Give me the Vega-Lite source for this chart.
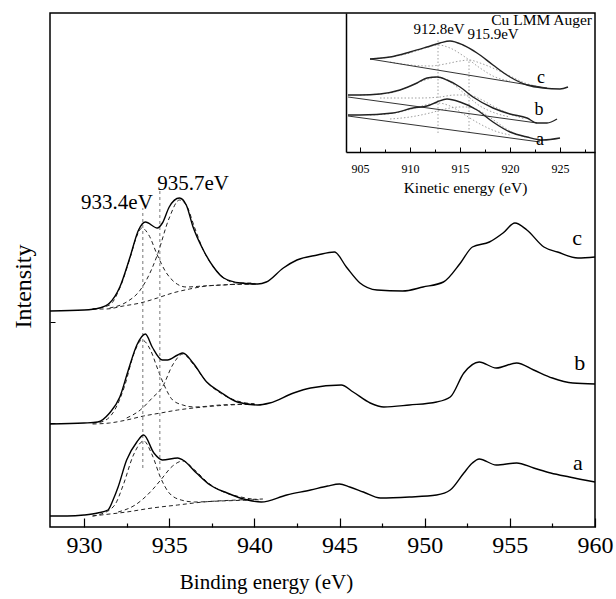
{
  "$schema": "https://vega.github.io/schema/vega-lite/v6.json",
  "width": 545,
  "height": 514,
  "autosize": {"type": "none"},
  "padding": {"left": 50, "top": 13, "right": 21, "bottom": 72},
  "background": "white",
  "config": {
    "view": {"stroke": "black", "strokeWidth": 1.5},
    "axis": {"grid": false, "labelFont": "Liberation Serif", "titleFont": "Liberation Serif", "titleFontWeight": "normal", "labelColor": "black", "titleColor": "black", "tickColor": "black", "domainColor": "black"},
    "text": {"font": "Liberation Serif", "color": "black"}
  },
  "datasets": {
    "main": [
      {"s": "a", "x": 928.0, "y": 11}, {"s": "a", "x": 929.0, "y": 11}, {"s": "a", "x": 930.0, "y": 12}, {"s": "a", "x": 930.8, "y": 14}, {"s": "a", "x": 931.4, "y": 17}, {"s": "a", "x": 931.7, "y": 27}, {"s": "a", "x": 932.0, "y": 40}, {"s": "a", "x": 932.5, "y": 67}, {"s": "a", "x": 933.1, "y": 85}, {"s": "a", "x": 933.5, "y": 92}, {"s": "a", "x": 934.1, "y": 74}, {"s": "a", "x": 934.6, "y": 67}, {"s": "a", "x": 935.5, "y": 69}, {"s": "a", "x": 935.8, "y": 67}, {"s": "a", "x": 936.6, "y": 54}, {"s": "a", "x": 937.4, "y": 42}, {"s": "a", "x": 938.4, "y": 34}, {"s": "a", "x": 939.6, "y": 27}, {"s": "a", "x": 940.4, "y": 25}, {"s": "a", "x": 941.9, "y": 32}, {"s": "a", "x": 943.3, "y": 37}, {"s": "a", "x": 944.3, "y": 41}, {"s": "a", "x": 945.0, "y": 43}, {"s": "a", "x": 945.6, "y": 40}, {"s": "a", "x": 946.4, "y": 35}, {"s": "a", "x": 947.4, "y": 29}, {"s": "a", "x": 949.1, "y": 30}, {"s": "a", "x": 950.7, "y": 32}, {"s": "a", "x": 951.5, "y": 37}, {"s": "a", "x": 952.3, "y": 54}, {"s": "a", "x": 952.8, "y": 64}, {"s": "a", "x": 953.2, "y": 68}, {"s": "a", "x": 954.2, "y": 62}, {"s": "a", "x": 955.4, "y": 64}, {"s": "a", "x": 956.4, "y": 59}, {"s": "a", "x": 957.4, "y": 54}, {"s": "a", "x": 958.5, "y": 50}, {"s": "a", "x": 960.0, "y": 45},
      {"s": "b", "x": 928.0, "y": 103}, {"s": "b", "x": 930.0, "y": 104}, {"s": "b", "x": 930.8, "y": 105}, {"s": "b", "x": 931.5, "y": 114}, {"s": "b", "x": 932.1, "y": 130}, {"s": "b", "x": 932.6, "y": 157}, {"s": "b", "x": 933.1, "y": 182}, {"s": "b", "x": 933.6, "y": 193}, {"s": "b", "x": 934.0, "y": 180}, {"s": "b", "x": 934.6, "y": 167}, {"s": "b", "x": 934.9, "y": 167}, {"s": "b", "x": 935.5, "y": 172}, {"s": "b", "x": 935.8, "y": 174}, {"s": "b", "x": 936.4, "y": 164}, {"s": "b", "x": 937.2, "y": 145}, {"s": "b", "x": 938.0, "y": 135}, {"s": "b", "x": 939.0, "y": 125}, {"s": "b", "x": 940.2, "y": 122}, {"s": "b", "x": 940.9, "y": 124}, {"s": "b", "x": 942.3, "y": 134}, {"s": "b", "x": 943.3, "y": 139}, {"s": "b", "x": 945.1, "y": 142}, {"s": "b", "x": 945.8, "y": 135}, {"s": "b", "x": 946.8, "y": 124}, {"s": "b", "x": 947.6, "y": 120}, {"s": "b", "x": 949.1, "y": 122}, {"s": "b", "x": 950.7, "y": 125}, {"s": "b", "x": 951.5, "y": 130}, {"s": "b", "x": 952.3, "y": 154}, {"s": "b", "x": 953.2, "y": 165}, {"s": "b", "x": 954.2, "y": 159}, {"s": "b", "x": 955.4, "y": 164}, {"s": "b", "x": 956.4, "y": 157}, {"s": "b", "x": 957.5, "y": 149}, {"s": "b", "x": 958.7, "y": 144}, {"s": "b", "x": 960.0, "y": 143},
      {"s": "c", "x": 928.0, "y": 216}, {"s": "c", "x": 930.0, "y": 217}, {"s": "c", "x": 930.9, "y": 219}, {"s": "c", "x": 931.5, "y": 224}, {"s": "c", "x": 932.1, "y": 240}, {"s": "c", "x": 932.7, "y": 270}, {"s": "c", "x": 933.2, "y": 297}, {"s": "c", "x": 933.6, "y": 305}, {"s": "c", "x": 934.3, "y": 299}, {"s": "c", "x": 934.6, "y": 304}, {"s": "c", "x": 935.0, "y": 320}, {"s": "c", "x": 935.6, "y": 329}, {"s": "c", "x": 936.0, "y": 322}, {"s": "c", "x": 936.4, "y": 300}, {"s": "c", "x": 937.0, "y": 277}, {"s": "c", "x": 937.6, "y": 260}, {"s": "c", "x": 938.2, "y": 249}, {"s": "c", "x": 939.2, "y": 244}, {"s": "c", "x": 940.2, "y": 243}, {"s": "c", "x": 940.7, "y": 245}, {"s": "c", "x": 941.7, "y": 259}, {"s": "c", "x": 942.5, "y": 267}, {"s": "c", "x": 943.7, "y": 272}, {"s": "c", "x": 944.7, "y": 275}, {"s": "c", "x": 945.4, "y": 260}, {"s": "c", "x": 946.2, "y": 244}, {"s": "c", "x": 947.2, "y": 237}, {"s": "c", "x": 948.7, "y": 236}, {"s": "c", "x": 949.9, "y": 240}, {"s": "c", "x": 951.1, "y": 245}, {"s": "c", "x": 952.1, "y": 264}, {"s": "c", "x": 952.8, "y": 280}, {"s": "c", "x": 953.8, "y": 285}, {"s": "c", "x": 954.6, "y": 294}, {"s": "c", "x": 955.3, "y": 304}, {"s": "c", "x": 956.0, "y": 297}, {"s": "c", "x": 957.0, "y": 280}, {"s": "c", "x": 957.8, "y": 275}, {"s": "c", "x": 959.0, "y": 269}, {"s": "c", "x": 960.0, "y": 270}
    ],
    "fit": [
      {"c": "c-bg", "x": 930.5, "y": 218}, {"c": "c-bg", "x": 931.3, "y": 218}, {"c": "c-bg", "x": 932.3, "y": 221}, {"c": "c-bg", "x": 933.3, "y": 224}, {"c": "c-bg", "x": 934.3, "y": 229}, {"c": "c-bg", "x": 935.2, "y": 234}, {"c": "c-bg", "x": 936.2, "y": 238}, {"c": "c-bg", "x": 937.2, "y": 241}, {"c": "c-bg", "x": 938.2, "y": 242}, {"c": "c-bg", "x": 939.2, "y": 243}, {"c": "c-bg", "x": 940.2, "y": 243},
      {"c": "c-p1", "x": 930.5, "y": 218}, {"c": "c-p1", "x": 931.5, "y": 222}, {"c": "c-p1", "x": 932.1, "y": 239}, {"c": "c-p1", "x": 932.7, "y": 269}, {"c": "c-p1", "x": 933.1, "y": 291}, {"c": "c-p1", "x": 933.4, "y": 299}, {"c": "c-p1", "x": 933.8, "y": 292}, {"c": "c-p1", "x": 934.3, "y": 272}, {"c": "c-p1", "x": 934.8, "y": 255}, {"c": "c-p1", "x": 935.3, "y": 245}, {"c": "c-p1", "x": 936.0, "y": 240}, {"c": "c-p1", "x": 937.0, "y": 241}, {"c": "c-p1", "x": 938.0, "y": 242}, {"c": "c-p1", "x": 940.2, "y": 243},
      {"c": "c-p2", "x": 931.5, "y": 219}, {"c": "c-p2", "x": 932.5, "y": 225}, {"c": "c-p2", "x": 933.3, "y": 237}, {"c": "c-p2", "x": 934.0, "y": 259}, {"c": "c-p2", "x": 934.3, "y": 272}, {"c": "c-p2", "x": 935.0, "y": 309}, {"c": "c-p2", "x": 935.6, "y": 327}, {"c": "c-p2", "x": 936.0, "y": 322}, {"c": "c-p2", "x": 936.5, "y": 299}, {"c": "c-p2", "x": 937.0, "y": 277}, {"c": "c-p2", "x": 937.6, "y": 260}, {"c": "c-p2", "x": 938.2, "y": 249}, {"c": "c-p2", "x": 939.0, "y": 244}, {"c": "c-p2", "x": 940.0, "y": 244},
      {"c": "b-bg", "x": 930.5, "y": 103}, {"c": "b-bg", "x": 931.5, "y": 104}, {"c": "b-bg", "x": 932.5, "y": 107}, {"c": "b-bg", "x": 933.5, "y": 111}, {"c": "b-bg", "x": 934.5, "y": 114}, {"c": "b-bg", "x": 935.5, "y": 117}, {"c": "b-bg", "x": 937.0, "y": 120}, {"c": "b-bg", "x": 938.5, "y": 122}, {"c": "b-bg", "x": 940.0, "y": 123},
      {"c": "b-p1", "x": 930.5, "y": 104}, {"c": "b-p1", "x": 931.0, "y": 105}, {"c": "b-p1", "x": 931.8, "y": 117}, {"c": "b-p1", "x": 932.4, "y": 142}, {"c": "b-p1", "x": 932.9, "y": 172}, {"c": "b-p1", "x": 933.4, "y": 187}, {"c": "b-p1", "x": 933.9, "y": 177}, {"c": "b-p1", "x": 934.3, "y": 159}, {"c": "b-p1", "x": 934.7, "y": 142}, {"c": "b-p1", "x": 935.2, "y": 127}, {"c": "b-p1", "x": 935.8, "y": 122}, {"c": "b-p1", "x": 936.5, "y": 120}, {"c": "b-p1", "x": 938.0, "y": 122}, {"c": "b-p1", "x": 940.0, "y": 123},
      {"c": "b-p2", "x": 932.5, "y": 109}, {"c": "b-p2", "x": 933.3, "y": 117}, {"c": "b-p2", "x": 934.0, "y": 129}, {"c": "b-p2", "x": 934.6, "y": 140}, {"c": "b-p2", "x": 935.2, "y": 162}, {"c": "b-p2", "x": 935.8, "y": 173}, {"c": "b-p2", "x": 936.4, "y": 163}, {"c": "b-p2", "x": 937.2, "y": 145}, {"c": "b-p2", "x": 938.0, "y": 134}, {"c": "b-p2", "x": 939.0, "y": 126}, {"c": "b-p2", "x": 940.0, "y": 123},
      {"c": "a-bg", "x": 930.5, "y": 11}, {"c": "a-bg", "x": 931.0, "y": 12}, {"c": "a-bg", "x": 932.5, "y": 15}, {"c": "a-bg", "x": 934.0, "y": 19}, {"c": "a-bg", "x": 935.5, "y": 22}, {"c": "a-bg", "x": 937.0, "y": 25}, {"c": "a-bg", "x": 939.0, "y": 27}, {"c": "a-bg", "x": 940.5, "y": 28},
      {"c": "a-p1", "x": 930.5, "y": 11}, {"c": "a-p1", "x": 931.0, "y": 13}, {"c": "a-p1", "x": 931.8, "y": 22}, {"c": "a-p1", "x": 932.3, "y": 42}, {"c": "a-p1", "x": 932.9, "y": 72}, {"c": "a-p1", "x": 933.5, "y": 86}, {"c": "a-p1", "x": 934.0, "y": 72}, {"c": "a-p1", "x": 934.5, "y": 49}, {"c": "a-p1", "x": 935.0, "y": 34}, {"c": "a-p1", "x": 935.7, "y": 27}, {"c": "a-p1", "x": 936.5, "y": 25}, {"c": "a-p1", "x": 938.0, "y": 26}, {"c": "a-p1", "x": 940.0, "y": 27},
      {"c": "a-p2", "x": 932.0, "y": 15}, {"c": "a-p2", "x": 933.0, "y": 22}, {"c": "a-p2", "x": 934.0, "y": 37}, {"c": "a-p2", "x": 934.5, "y": 47}, {"c": "a-p2", "x": 935.2, "y": 61}, {"c": "a-p2", "x": 935.8, "y": 66}, {"c": "a-p2", "x": 936.5, "y": 57}, {"c": "a-p2", "x": 937.3, "y": 44}, {"c": "a-p2", "x": 938.2, "y": 35}, {"c": "a-p2", "x": 939.2, "y": 30}, {"c": "a-p2", "x": 940.3, "y": 27}
    ],
    "vlines": [
      {"x": 933.45, "y": 59, "y2": 319},
      {"x": 934.45, "y": 57, "y2": 339}
    ],
    "ann": [
      {"x": 931.93, "y": 318, "t": "933.4eV"},
      {"x": 936.4, "y": 337, "t": "935.7eV"}
    ],
    "lbl": [
      {"x": 958.95, "y": 289, "t": "c"},
      {"x": 959.1, "y": 164, "t": "b"},
      {"x": 959.0, "y": 64, "t": "a"}
    ],
    "aug": [
      {"s": "c", "x": 906.0, "y": 93}, {"s": "c", "x": 908.0, "y": 95}, {"s": "c", "x": 910.0, "y": 100}, {"s": "c", "x": 911.7, "y": 105}, {"s": "c", "x": 913.0, "y": 109}, {"s": "c", "x": 914.0, "y": 111}, {"s": "c", "x": 915.3, "y": 107}, {"s": "c", "x": 916.7, "y": 99}, {"s": "c", "x": 918.3, "y": 87}, {"s": "c", "x": 920.0, "y": 75}, {"s": "c", "x": 921.7, "y": 67}, {"s": "c", "x": 923.3, "y": 64}, {"s": "c", "x": 925.0, "y": 63}, {"s": "c", "x": 925.8, "y": 65},
      {"s": "b", "x": 903.8, "y": 57}, {"s": "b", "x": 905.0, "y": 57}, {"s": "b", "x": 907.0, "y": 58}, {"s": "b", "x": 909.0, "y": 62}, {"s": "b", "x": 910.7, "y": 69}, {"s": "b", "x": 911.7, "y": 74}, {"s": "b", "x": 912.7, "y": 75}, {"s": "b", "x": 913.7, "y": 72}, {"s": "b", "x": 915.0, "y": 65}, {"s": "b", "x": 916.3, "y": 55}, {"s": "b", "x": 918.3, "y": 44}, {"s": "b", "x": 920.0, "y": 38}, {"s": "b", "x": 921.7, "y": 34}, {"s": "b", "x": 922.7, "y": 29}, {"s": "b", "x": 923.7, "y": 29}, {"s": "b", "x": 924.7, "y": 33},
      {"s": "a", "x": 903.8, "y": 37}, {"s": "a", "x": 905.0, "y": 37}, {"s": "a", "x": 908.3, "y": 39}, {"s": "a", "x": 910.3, "y": 44}, {"s": "a", "x": 911.7, "y": 46}, {"s": "a", "x": 912.7, "y": 50}, {"s": "a", "x": 913.7, "y": 53}, {"s": "a", "x": 915.0, "y": 50}, {"s": "a", "x": 916.7, "y": 42}, {"s": "a", "x": 918.3, "y": 30}, {"s": "a", "x": 920.0, "y": 20}, {"s": "a", "x": 921.7, "y": 15}, {"s": "a", "x": 923.3, "y": 12}, {"s": "a", "x": 925.0, "y": 14}
    ],
    "augbg": [
      {"s": "c", "x": 906.0, "y": 93}, {"s": "c", "x": 923.7, "y": 64},
      {"s": "b", "x": 903.8, "y": 55}, {"s": "b", "x": 922.7, "y": 29},
      {"s": "a", "x": 903.8, "y": 36}, {"s": "a", "x": 923.0, "y": 10}
    ],
    "augfit": [
      {"c": "c1", "x": 906.0, "y": 93}, {"c": "c1", "x": 908.0, "y": 95}, {"c": "c1", "x": 910.0, "y": 99}, {"c": "c1", "x": 911.5, "y": 104}, {"c": "c1", "x": 912.8, "y": 107}, {"c": "c1", "x": 914.0, "y": 104}, {"c": "c1", "x": 915.5, "y": 95}, {"c": "c1", "x": 917.0, "y": 84}, {"c": "c1", "x": 918.5, "y": 75}, {"c": "c1", "x": 920.0, "y": 71},
      {"c": "c2", "x": 908.0, "y": 90}, {"c": "c2", "x": 910.0, "y": 87}, {"c": "c2", "x": 912.0, "y": 86}, {"c": "c2", "x": 913.5, "y": 88}, {"c": "c2", "x": 915.0, "y": 91}, {"c": "c2", "x": 915.9, "y": 92}, {"c": "c2", "x": 917.0, "y": 89}, {"c": "c2", "x": 918.5, "y": 83}, {"c": "c2", "x": 920.0, "y": 76}, {"c": "c2", "x": 921.5, "y": 69}, {"c": "c2", "x": 923.0, "y": 65},
      {"c": "b1", "x": 905.0, "y": 57}, {"c": "b1", "x": 908.0, "y": 59}, {"c": "b1", "x": 910.0, "y": 66}, {"c": "b1", "x": 911.5, "y": 72}, {"c": "b1", "x": 912.8, "y": 75}, {"c": "b1", "x": 914.0, "y": 70}, {"c": "b1", "x": 915.5, "y": 58}, {"c": "b1", "x": 917.0, "y": 46}, {"c": "b1", "x": 918.5, "y": 39}, {"c": "b1", "x": 920.0, "y": 35},
      {"c": "b2", "x": 907.0, "y": 54}, {"c": "b2", "x": 909.0, "y": 54}, {"c": "b2", "x": 911.0, "y": 54}, {"c": "b2", "x": 913.0, "y": 55}, {"c": "b2", "x": 914.5, "y": 57}, {"c": "b2", "x": 915.9, "y": 57}, {"c": "b2", "x": 917.0, "y": 53}, {"c": "b2", "x": 918.5, "y": 45}, {"c": "b2", "x": 920.0, "y": 38}, {"c": "b2", "x": 921.5, "y": 33},
      {"c": "a1", "x": 906.0, "y": 37}, {"c": "a1", "x": 908.5, "y": 39}, {"c": "a1", "x": 910.5, "y": 44}, {"c": "a1", "x": 912.0, "y": 48}, {"c": "a1", "x": 912.8, "y": 49}, {"c": "a1", "x": 914.0, "y": 46}, {"c": "a1", "x": 915.5, "y": 37}, {"c": "a1", "x": 917.0, "y": 28}, {"c": "a1", "x": 918.5, "y": 21}, {"c": "a1", "x": 920.0, "y": 17},
      {"c": "a2", "x": 908.0, "y": 33}, {"c": "a2", "x": 910.0, "y": 35}, {"c": "a2", "x": 912.0, "y": 39}, {"c": "a2", "x": 913.5, "y": 43}, {"c": "a2", "x": 915.0, "y": 45}, {"c": "a2", "x": 915.9, "y": 45}, {"c": "a2", "x": 917.0, "y": 41}, {"c": "a2", "x": 918.5, "y": 31}, {"c": "a2", "x": 920.0, "y": 21}, {"c": "a2", "x": 921.5, "y": 15}
    ],
    "augv": [
      {"x": 912.8, "y": 19, "y2": 112},
      {"x": 915.9, "y": 19, "y2": 92}
    ],
    "augtxt": [
      {"x": 912.9, "y": 118, "t": "912.8eV"},
      {"x": 918.3, "y": 113, "t": "915.9eV"}
    ],
    "auglbl": [
      {"x": 923.1, "y": 74, "t": "c"},
      {"x": 922.9, "y": 42, "t": "b"},
      {"x": 923.0, "y": 12, "t": "a"}
    ],
    "augtitle": [
      {"x": 928.2, "y": 127, "t": "Cu LMM Auger"}
    ]
  },
  "layer": [
    {
      "encoding": {
        "x": {
          "field": "x", "type": "quantitative",
          "scale": {"domain": [928, 960], "nice": false, "zero": false},
          "axis": {
            "values": [930, 932.5, 935, 937.5, 940, 942.5, 945, 947.5, 950, 952.5, 955, 957.5, 960],
            "labelExpr": "datum.value % 5 === 0 ? format(datum.value, 'd') : ''",
            "tickSize": {"condition": {"test": "datum.value % 5 === 0", "value": -9}, "value": -4},
            "tickWidth": 1.2,
            "labelPadding": 15,
            "labelFont": "Liberation Serif",
            "labelFontSize": 24,
            "labelOverlap": false,
            "labelFlush": false,
            "domain": false,
            "title": "Binding energy (eV)",
            "titleFontSize": 21,
            "titleX": 216,
            "titleY": 55,
            "titleBaseline": "middle",
            "titleAlign": "center"
          }
        },
        "y": {
          "field": "y", "type": "quantitative",
          "scale": {"domain": [0, 514], "nice": false, "zero": false},
          "axis": {
            "values": [104, 205],
            "tickSize": -5,
            "labels": false,
            "domain": false,
            "title": "Intensity",
            "titleFontSize": 24,
            "titleX": -27,
            "titleY": 273,
            "titleAngle": -90,
            "titleBaseline": "middle",
            "titleAlign": "center"
          }
        }
      },
      "layer": [
        {
          "data": {"name": "fit"},
          "mark": {"type": "line", "color": "#222222", "strokeWidth": 1, "strokeDash": [4, 3], "interpolate": "monotone"},
          "encoding": {"detail": {"field": "c"}}
        },
        {
          "data": {"name": "vlines"},
          "mark": {"type": "rule", "color": "#777777", "strokeWidth": 1, "strokeDash": [3, 3]},
          "encoding": {"y2": {"field": "y2"}}
        },
        {
          "data": {"name": "main"},
          "mark": {"type": "line", "color": "black", "strokeWidth": 1.4, "interpolate": "monotone"},
          "encoding": {"detail": {"field": "s"}}
        },
        {
          "data": {"name": "ann"},
          "mark": {"type": "text", "font": "Liberation Serif", "fontSize": 21, "align": "center", "baseline": "alphabetic"},
          "encoding": {"text": {"field": "t"}}
        },
        {
          "data": {"name": "lbl"},
          "mark": {"type": "text", "font": "Liberation Serif", "fontSize": 22, "align": "center", "baseline": "middle"},
          "encoding": {"text": {"field": "t"}}
        }
      ]
    },
    {
      "encoding": {
        "x": {
          "field": "x", "type": "quantitative",
          "scale": {"domain": [903.6, 928.5], "nice": false, "zero": false, "range": [296, 545]},
          "axis": {
            "orient": "bottom",
            "offset": -375,
            "values": [905, 907.5, 910, 912.5, 915, 917.5, 920, 922.5, 925, 927.5],
            "labelExpr": "datum.value % 5 === 0 ? format(datum.value, 'd') : ''",
            "tickSize": {"condition": {"test": "datum.value % 5 === 0", "value": -5}, "value": -3},
            "labelPadding": 16,
            "labelFont": "Liberation Serif",
            "labelFontSize": 12,
            "labelOverlap": false,
            "labelFlush": false,
            "domain": true,
            "domainWidth": 1.5,
            "title": "Kinetic energy (eV)",
            "titleFontSize": 15.5,
            "titleX": 415,
            "titleY": 40,
            "titleBaseline": "alphabetic",
            "titleAlign": "center"
          }
        },
        "y": {
          "field": "y", "type": "quantitative",
          "scale": {"domain": [0, 139], "nice": false, "zero": false, "range": [139, 0]},
          "axis": {
            "orient": "left",
            "offset": -296,
            "domain": true,
            "domainWidth": 1.5,
            "ticks": false,
            "labels": false,
            "title": null
          }
        }
      },
      "layer": [
        {
          "data": {"name": "augfit"},
          "mark": {"type": "line", "color": "#888888", "strokeWidth": 0.8, "strokeDash": [1.5, 2], "interpolate": "monotone"},
          "encoding": {"detail": {"field": "c"}}
        },
        {
          "data": {"name": "augv"},
          "mark": {"type": "rule", "color": "#888888", "strokeWidth": 0.8, "strokeDash": [1.5, 2]},
          "encoding": {"y2": {"field": "y2"}}
        },
        {
          "data": {"name": "augbg"},
          "mark": {"type": "line", "color": "#333333", "strokeWidth": 1},
          "encoding": {"detail": {"field": "s"}}
        },
        {
          "data": {"name": "aug"},
          "mark": {"type": "line", "color": "#222222", "strokeWidth": 1.4, "interpolate": "monotone"},
          "encoding": {"detail": {"field": "s"}}
        },
        {
          "data": {"name": "augtxt"},
          "mark": {"type": "text", "font": "Liberation Serif", "fontSize": 15, "align": "center", "baseline": "alphabetic"},
          "encoding": {"text": {"field": "t"}}
        },
        {
          "data": {"name": "auglbl"},
          "mark": {"type": "text", "font": "Liberation Serif", "fontSize": 18, "align": "center", "baseline": "middle"},
          "encoding": {"text": {"field": "t"}}
        },
        {
          "data": {"name": "augtitle"},
          "mark": {"type": "text", "font": "Liberation Serif", "fontSize": 15.5, "align": "right", "baseline": "alphabetic"},
          "encoding": {"text": {"field": "t"}}
        }
      ]
    }
  ],
  "resolve": {"scale": {"x": "independent", "y": "independent"}, "axis": {"x": "independent", "y": "independent"}}
}
